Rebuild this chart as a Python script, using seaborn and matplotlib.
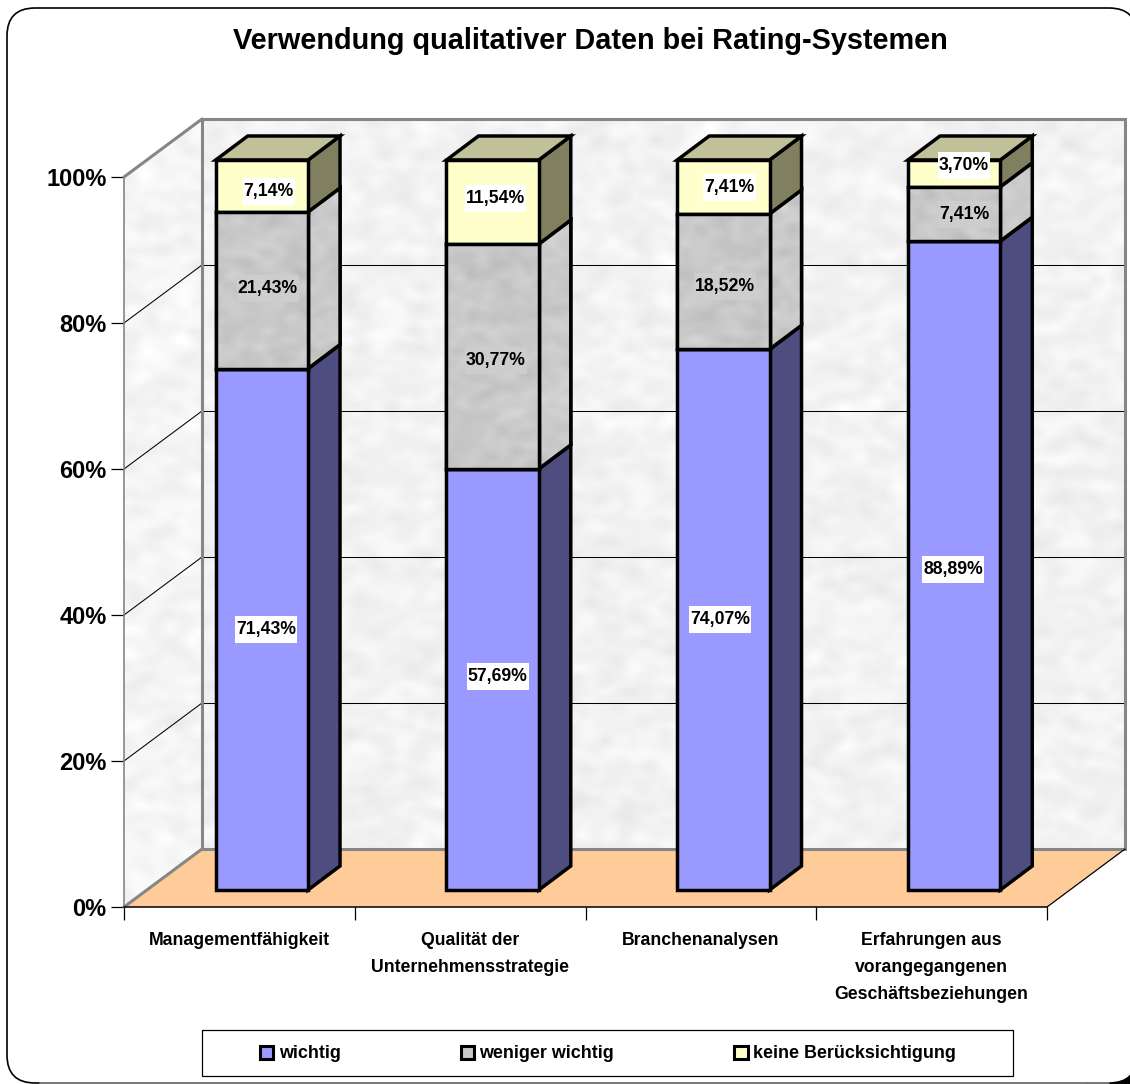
#!/usr/bin/env python3
import numpy as np
import matplotlib
matplotlib.use("Agg")
import matplotlib.pyplot as plt
from matplotlib.patches import Polygon, Rectangle, FancyBboxPatch, Patch
from matplotlib.ticker import PercentFormatter
from matplotlib.transforms import IdentityTransform
import seaborn as sns

CATEGORIES = ["Managementfähigkeit", "Qualität der\nUnternehmensstrategie", "Branchenanalysen",
              "Erfahrungen aus\nvorangegangenen\nGeschäftsbeziehungen"]
SERIES = ["wichtig", "weniger wichtig", "keine Berücksichtigung"]
WICHTIG = [71.43, 57.69, 74.07, 88.89]
WENIGER = [21.43, 30.77, 18.52, 7.41]
KEINE = [7.14, 11.54, 7.41, 3.70]

W, H = 1130, 1084
FRONT = ["#9999FF", "#C8C8C8", "#FFFFCC"]
SIDE = ["#4D4D80", "#C8C8C8", "#808060"]
TOP = "#C0C099"
GREY_LINE = "#868686"
FONT = ["Liberation Sans", "DejaVu Sans"]

# pixel sizes of the fake 3D box
PX_X = 923 / 4  # one category
PX_Y = 7.3      # one percent
BAR_DEPTH = (32, 24)
AXIS_TO_BARS = (22.5, 17)
AXIS_TO_WALL = (78, 58)


def axes_at(x0, x1, y_bottom, y_top):
    return fig.add_axes([x0 / W, 1 - y_bottom / H, (x1 - x0) / W, (y_bottom - y_top) / H])


def offset(depth):
    return depth[0] / PX_X, depth[1] / PX_Y


def marble(rng, ny, nx, scale):
    # soft cloudy noise, only the look of the fill pattern, no chart values
    fx = np.fft.fftfreq(nx)[None, :]
    fy = np.fft.fftfreq(ny)[:, None]
    spec = np.fft.fft2(rng.normal(size=(ny, nx))) * np.exp(-((fx * scale) ** 2 + (fy * scale * 0.7) ** 2))
    img = np.fft.ifft2(spec).real
    return img / img.std()


def textured(ax, pts, base, amp, scale, zorder, rng):
    pts = np.array(pts)
    poly = Polygon(pts, closed=True, transform=ax.transData, fill=False, lw=0)
    ax.add_patch(poly)
    x0, y0 = pts.min(axis=0)
    x1, y1 = pts.max(axis=0)
    px = ax.transData.transform(pts)
    nx = max(int(np.ptp(px[:, 0])), 4)
    ny = max(int(np.ptp(px[:, 1])), 4)
    img = np.clip(base + amp * marble(rng, ny, nx, scale), 0, 1)
    im = ax.imshow(img, cmap="gray", vmin=0, vmax=1, extent=[x0, x1, y0, y1], aspect="auto",
                   zorder=zorder, interpolation="bilinear")
    im.set_clip_box(fig.bbox)
    im.set_clip_path(poly)
    return im


sns.set_theme(style="white")
plt.rcParams["font.family"] = FONT
plt.rcParams["font.weight"] = "bold"

rng = np.random.default_rng(4)
fig = plt.figure(figsize=(W / 100, H / 100), dpi=100, facecolor="white")

# frame, title and legend live on a pixel canvas
canvas = fig.add_axes([0, 0, 1, 1])
canvas.set_xlim(0, W)
canvas.set_ylim(H, 0)
canvas.axis("off")
canvas.add_patch(Rectangle((1085, 1045), 45, 39, fc="black", ec="none"))
canvas.add_patch(FancyBboxPatch((7, 8), W + 7 - 7, H - 1 - 8, boxstyle="round,pad=0,rounding_size=28",
                                fc="white", ec="black", lw=1.2, clip_on=False))
canvas.plot([40, 1109], [1083, 1083], color="#8c8c8c", lw=1.2)
canvas.text(590, 41, "Verwendung qualitativer Daten bei Rating-Systemen", ha="center", va="center",
            fontsize=20.75, fontweight="bold", color="black")
canvas.add_patch(Rectangle((202, 1030), 811, 46, fc="white", ec="black", lw=0.9))
handles = [Patch(fc=c, ec="black", lw=2.2) for c in FRONT]
canvas.legend(handles, SERIES, ncol=3, loc="center", bbox_to_anchor=(608 / W, 1 - 1054 / H),
              bbox_transform=fig.transFigure, frameon=False, fontsize=12.9,
              handlelength=0.75, handleheight=0.75, handletextpad=0.3, columnspacing=6.7, labelcolor="black")

# the axis plane: real ticks and labels
ax = axes_at(124, 1047, 907, 177)
ax.patch.set_alpha(0)
ax.set_xlim(-0.5, 3.5)
ax.set_ylim(0, 100)
for s in ["top", "right"]:
    ax.spines[s].set_visible(False)
ax.spines["left"].set_color(GREY_LINE)
ax.spines["left"].set_linewidth(1.2)
ax.spines["bottom"].set_color("black")
ax.spines["bottom"].set_linewidth(1.1)
ax.set_yticks(range(0, 101, 20))
ax.yaxis.set_major_formatter(PercentFormatter(100, decimals=0))
ax.tick_params(axis="y", length=9.5, width=0.9, color="black", labelsize=17, pad=3, left=True, labelcolor="black")
ax.set_xticks(np.arange(-0.5, 3.6, 1))
ax.set_xticklabels([])
ax.set_xticks(range(4), CATEGORIES, minor=True)
ax.tick_params(axis="x", which="major", length=9.5, width=0.9, color="black", bottom=True)
ax.tick_params(axis="x", which="minor", length=0, labelsize=12.7, pad=18, labelcolor="black")
for lab in ax.get_xticklabels(minor=True):
    lab.set_linespacing(1.78)
    lab.set_fontweight("bold")
for lab in ax.get_yticklabels():
    lab.set_fontweight("bold")

dx, dy = offset(AXIS_TO_WALL)
x_l, x_r = -0.5, 3.5
back = [(x_l + dx, dy), (x_r + dx, dy), (x_r + dx, 100 + dy), (x_l + dx, 100 + dy)]
left = [(x_l, 0), (x_l + dx, dy), (x_l + dx, 100 + dy), (x_l, 100)]
floor = [(x_l, 0), (x_r, 0), (x_r + dx, dy), (x_l + dx, dy)]
textured(ax, back, 0.95, 0.012, 28, 0.5, rng)
textured(ax, left, 0.96, 0.012, 28, 0.5, rng)
ax.add_patch(Polygon(floor, fc="#FFCC99", ec="none", zorder=0.7, clip_on=False))
for v in range(20, 100, 20):
    ax.plot([x_l, x_l + dx], [v, v + dy], color="black", lw=0.75, zorder=0.8, clip_on=False)
    ax.plot([x_l + dx, x_r + dx], [v + dy, v + dy], color="black", lw=0.75, zorder=0.8, clip_on=False)
ax.add_patch(Polygon(back, fill=False, ec=GREY_LINE, lw=2.2, zorder=0.9, clip_on=False))
ax.plot([x_l, x_l + dx], [100, 100 + dy], color=GREY_LINE, lw=2.2, zorder=0.9, clip_on=False)
ax.plot([x_l, x_l + dx], [0, dy], color=GREY_LINE, lw=2.2, zorder=0.9, clip_on=False)
ax.plot([x_r, x_r + dx], [0, dy], color="black", lw=0.9, zorder=0.9, clip_on=False)

# the bars sit a little deeper in the box, so they get their own shifted axes
sx, sy = AXIS_TO_BARS
ax_bars = axes_at(124 + sx, 1047 + sx, 907 - sy, 177 - sy)
ax_bars.patch.set_alpha(0)

LW = 2.5
values = [WICHTIG, WENIGER, KEINE]
bottoms = np.zeros(4)
bar_w = 0.4
ddx, ddy = offset(BAR_DEPTH)
for i, vals in enumerate(values):
    sns.barplot(x=CATEGORIES, y=vals, bottom=bottoms, color=FRONT[i], saturation=1, width=bar_w,
                edgecolor="black", linewidth=LW, ax=ax_bars, zorder=3)
    bottoms = bottoms + np.array(vals)
for p in ax_bars.patches:
    p.set_clip_on(False)
ax_bars.set_xlim(-0.5, 3.5)
ax_bars.set_ylim(0, 100)
ax_bars.axis("off")

bottoms = np.zeros(4)
for i, vals in enumerate(values):
    for j, v in enumerate(vals):
        xr = j + bar_w / 2
        xl = j - bar_w / 2
        b, t = bottoms[j], bottoms[j] + v
        side = [(xr, b), (xr + ddx, b + ddy), (xr + ddx, t + ddy), (xr, t)]
        ax_bars.add_patch(Polygon(side, fc=SIDE[i], ec="black", lw=LW, zorder=2.5, clip_on=False))
        if i == 1:
            textured(ax_bars, side, 0.79, 0.014, 22, 2.6, rng)
            ax_bars.add_patch(Polygon(side, fill=False, ec="black", lw=LW, zorder=2.7, clip_on=False))
            front = [(xl, b), (xr, b), (xr, t), (xl, t)]
            textured(ax_bars, front, 0.785, 0.014, 22, 3.1, rng)
            ax_bars.add_patch(Polygon(front, fill=False, ec="black", lw=LW, zorder=3.2, clip_on=False))
        if i == 2:
            topf = [(xl, t), (xr, t), (xr + ddx, t + ddy), (xl + ddx, t + ddy)]
            ax_bars.add_patch(Polygon(topf, fc=TOP, ec="black", lw=LW, zorder=2.8, clip_on=False))
    bottoms = bottoms + np.array(vals)
ax_bars.set_xlim(-0.5, 3.5)
ax_bars.set_ylim(0, 100)

# value labels, with the small shifts the original has (pixels)
NUDGE = {(0, 0): (4, 0), (0, 1): (6, 2), (0, 2): (7, -5),
         (1, 0): (5, 3), (1, 1): (3, -4), (1, 2): (3, 4),
         (2, 0): (-3, 0), (2, 1): (2, -5), (2, 2): (6, 0),
         (3, 0): (-1, -4), (3, 1): (10, 0), (3, 2): (10, 8)}
renderer = fig.canvas.get_renderer()
bottoms = np.zeros(4)
for i, vals in enumerate(values):
    for j, v in enumerate(vals):
        nx, ny = NUDGE[(j, i)]
        txt = f"{v:.2f}%".replace(".", ",")
        t = ax_bars.annotate(txt, (j, bottoms[j] + v / 2), xytext=(nx * 0.72, ny * 0.72), textcoords="offset points",
                             ha="center", va="center", fontsize=12.7, fontweight="bold", color="black", zorder=5)
        box = t.get_window_extent(renderer)
        # backing box is taller than the text, as in the original
        bg = "#CDCDCD" if i == 1 else "white"
        cy = (box.y0 + box.y1) / 2
        ax_bars.add_patch(Rectangle((box.x0 - 1, cy - 13.5), box.width + 2, 27, fc=bg, ec="none", zorder=4.5,
                                    transform=IdentityTransform(), clip_on=False))
    bottoms = bottoms + np.array(vals)

fig.savefig("out.png", dpi=100)
